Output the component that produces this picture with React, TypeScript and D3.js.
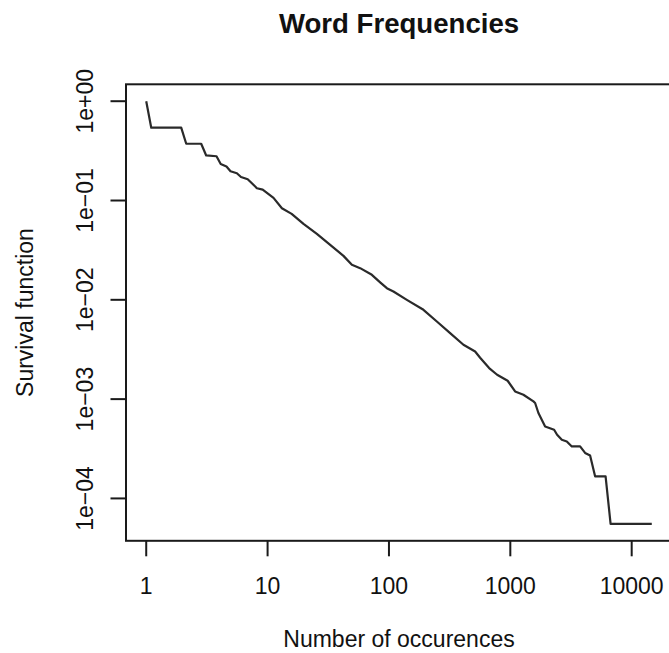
import React from "react";
import * as d3 from "d3";

const chartTitle = "Word Frequencies";
const xAxisTitle = "Number of occurences";
const yAxisTitle = "Survival function";

// Occurrence counts (x) and survival function values (y)
const occurrences = [
  1, 1.1, 1.942, 2.136, 2.838, 3.12, 3.794, 4.109, 4.585, 4.948, 5.585, 6.038, 6.858,
  8.164, 9.113, 11.19, 13.12, 15.79, 19.76, 25.47, 32.79, 42.19, 49.47, 57.91, 72.3,
  84.6, 96.1, 108.9, 140.4, 192.4, 248.1, 319.2, 410.9, 512.9, 563.9, 669, 778.6,
  950.2, 1095, 1282, 1550, 1601, 1704, 1935, 2295, 2429, 2656, 2920, 3211, 3758, 4131,
  4543, 4994, 6095, 6702, 14640,
];
const survival = [
  1, 0.541, 0.541, 0.3727, 0.3727, 0.2842, 0.279, 0.2335, 0.2203, 0.1971, 0.1882,
  0.1727, 0.1637, 0.133, 0.1287, 0.1062, 0.0836, 0.0733, 0.0582, 0.0461, 0.0357,
  0.0277, 0.0225, 0.02084, 0.01785, 0.015, 0.0131, 0.01212, 0.01, 0.00793, 0.00605,
  0.00462, 0.00353, 0.00302, 0.00261, 0.002055, 0.00176, 0.001531, 0.001195,
  0.001107, 0.000948, 0.000914, 0.000725, 0.000531, 0.000492, 0.000438, 0.00039,
  0.000375, 0.000334, 0.000334, 0.000287, 0.00027, 0.000167, 0.000167, 0.0000554,
  0.0000554,
];

const xTickValues = [1, 10, 100, 1000, 10000];
const xTickLabels = ["1", "10", "100", "1000", "10000"];
const yTickValues = [1, 0.1, 0.01, 0.001, 0.0001];
const yTickLabels = ["1e+00", "1e\u221201", "1e\u221202", "1e\u221203", "1e\u221204"];

const W = 669;
const H = 653;
const plotLeft = 126;
const plotRight = 672;
const plotTop = 84.3;
const plotBottom = 540.8;
const FONT = "'Liberation Sans', Arial, Helvetica, sans-serif";

export default function App() {
  // R-style 4% padding in log space
  const lxMin = Math.log10(d3.min(occurrences) as number);
  const lxMax = Math.log10(d3.max(occurrences) as number);
  const lyMin = Math.log10(d3.min(survival) as number);
  const lyMax = Math.log10(d3.max(survival) as number);
  const px = 0.04 * (lxMax - lxMin);
  const py = 0.04 * (lyMax - lyMin);

  const x = d3
    .scaleLog()
    .domain([Math.pow(10, lxMin - px), Math.pow(10, lxMax + px)])
    .range([plotLeft, plotRight]);
  const y = d3
    .scaleLog()
    .domain([Math.pow(10, lyMin - py), Math.pow(10, lyMax + py)])
    .range([plotBottom, plotTop]);

  const pts: [number, number][] = occurrences.map((o, i) => [o, survival[i]]);
  const line = d3
    .line<[number, number]>()
    .x((d) => x(d[0]))
    .y((d) => y(d[1]));

  const tickLen = 15.5;
  const fs = 23;

  return (
    <svg
      width={W}
      height={H}
      style={{ position: "absolute", left: 0, top: 0, background: "#fff" }}
      fontFamily={FONT}
    >
      <rect x={0} y={0} width={W} height={H} fill="#fff" />
      <text x={(plotLeft + plotRight) / 2} y={33} textAnchor="middle" fontSize={27.6} fontWeight="bold" fill="#111">
        {chartTitle}
      </text>

      {/* plot box */}
      <rect
        x={plotLeft}
        y={plotTop}
        width={plotRight - plotLeft}
        height={plotBottom - plotTop}
        fill="none"
        stroke="#1a1a1a"
        strokeWidth={2}
      />

      {/* curve */}
      <path d={line(pts) || ""} fill="none" stroke="#2a2a2a" strokeWidth={2.2} strokeLinejoin="round" />

      {/* x axis ticks */}
      {xTickValues.map((v, i) => (
        <g key={"xt" + i}>
          <line x1={x(v)} x2={x(v)} y1={plotBottom} y2={plotBottom + tickLen} stroke="#1a1a1a" strokeWidth={2} />
          <text x={x(v)} y={594} textAnchor="middle" fontSize={fs} fill="#111">
            {xTickLabels[i]}
          </text>
        </g>
      ))}

      {/* y axis ticks */}
      {yTickValues.map((v, i) => (
        <g key={"yt" + i}>
          <line x1={plotLeft - tickLen} x2={plotLeft} y1={y(v)} y2={y(v)} stroke="#1a1a1a" strokeWidth={2} />
          <text
            transform={`translate(92.5,${y(v)}) rotate(-90)`}
            textAnchor="middle"
            fontSize={fs}
            fill="#111"
          >
            {yTickLabels[i]}
          </text>
        </g>
      ))}

      <text x={(plotLeft + plotRight) / 2} y={647} textAnchor="middle" fontSize={fs} fill="#111">
        {xAxisTitle}
      </text>
      <text
        transform={`translate(33,${(plotTop + plotBottom) / 2}) rotate(-90)`}
        textAnchor="middle"
        fontSize={fs}
        fill="#111"
      >
        {yAxisTitle}
      </text>
    </svg>
  );
}
